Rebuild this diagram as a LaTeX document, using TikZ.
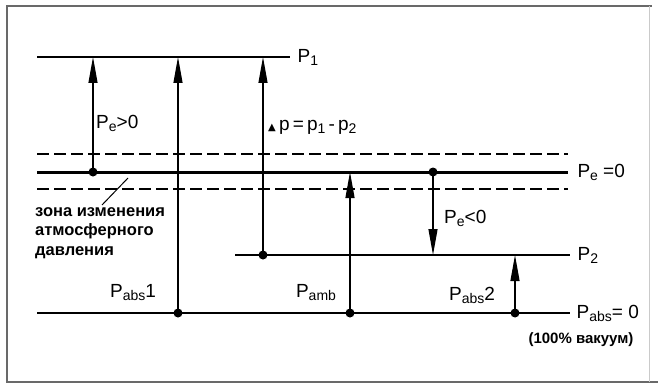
\documentclass[tikz,border=0pt]{standalone}
\usepackage{fontspec}
\setmainfont{Liberation Sans}
\newfontfamily\symfont{DejaVu Sans}
\usetikzlibrary{arrows.meta,positioning}
\definecolor{framegray}{RGB}{105,105,105}
\newcommand{\lowsub}[1]{\raisebox{-0.3ex}{\fontsize{14}{14}\selectfont #1}}

\begin{document}
\begin{tikzpicture}[x=1pt, y=-1pt, >={Triangle[length=26pt,width=9pt]},
    level/.style={line width=1.3pt},
    zone/.style={line width=1.3pt, dash pattern=on 12pt off 5pt},
    meas/.style={->, line width=1.2pt},
    lbl/.style={font=\fontsize{19}{19}\selectfont, inner sep=0pt},
    note/.style={font=\fontsize{16.5}{19.5}\selectfont\bfseries, align=left, inner sep=0pt}]
\useasboundingbox (0,0) rectangle (658,385);
% frame
\draw[framegray, line width=2pt] (652,6) -- (7,6) -- (7,382) -- (658,382);
\draw[framegray!35, line width=1pt] (649,6) -- (649,382);

% pressure levels
\draw[level] (37,57) -- (290,57) node[lbl, right=7pt] (lp1) {P\lowsub{1}};
\draw[zone] (37,154) -- (568,154);
\draw[line width=3pt] (37,172) -- (568,172)
    node[lbl, right=8pt] (lpe) {P\lowsub{e} =0};
\draw[zone] (37,189) -- (568,189);
\draw[level] (235,255) -- (570,255) node[lbl, right=7pt] (lp2) {P\lowsub{2}};
\draw[level] (37,313) -- (570,313)
    node[lbl, right=6pt] (lvac) {P\lowsub{abs}= 0};
\node[note, font=\fontsize{15}{15}\selectfont\bfseries] (lvacnote) at (581,340)
    {(100\% вакуум)};

% points on the levels
\coordinate (gA) at (93,172);  \coordinate (hA) at (93,57);
\coordinate (gB) at (178,313); \coordinate (hB) at (178,57);
\coordinate (gC) at (263,255); \coordinate (hC) at (263,57);
\coordinate (gD) at (350,313); \coordinate (hD) at (350,172);
\coordinate (gE) at (433,172); \coordinate (hE) at (433,255);
\coordinate (gF) at (515,313); \coordinate (hF) at (515,255);

% measured pressures
\draw[meas] (gA) -- (hA);
\draw[meas] (gB) -- (hB);
\draw[meas] (gC) -- (hC);
\draw[meas] (gD) -- (hD);
\draw[meas] (gE) -- (hE);
\draw[meas] (gF) -- (hF);
\foreach \p in {gA,gB,gC,gD,gE,gF}
    \fill (\p) circle (4.5pt);

% labels
\node[lbl, anchor=west] (lpos) at (96,123) {P\lowsub{e}>0};
\node[lbl, anchor=west] (ldiff) at (268,127)
    {{\symfont\fontsize{10}{10}\selectfont ▲}\,p\,=\,p\lowsub{1}\,-\,p\lowsub{2}};
\node[lbl] (labs1) at (133,293) {P\lowsub{abs}1};
\node[lbl] (lamb) at (316,293) {P\lowsub{amb}};
\node[lbl, anchor=west] (lneg) at (444,218) {P\lowsub{e}<0};
\node[lbl] (labs2) at (472,295) {P\lowsub{abs}2};

% zone of atmospheric pressure change
\coordinate (zl) at (128,178);
\node[note, anchor=north west] (lzone) at (35,207)
    {зона изменения\\атмосферного\\давления};
\draw[line width=1pt] (102,205) -- (zl);
\end{tikzpicture}
\end{document}
